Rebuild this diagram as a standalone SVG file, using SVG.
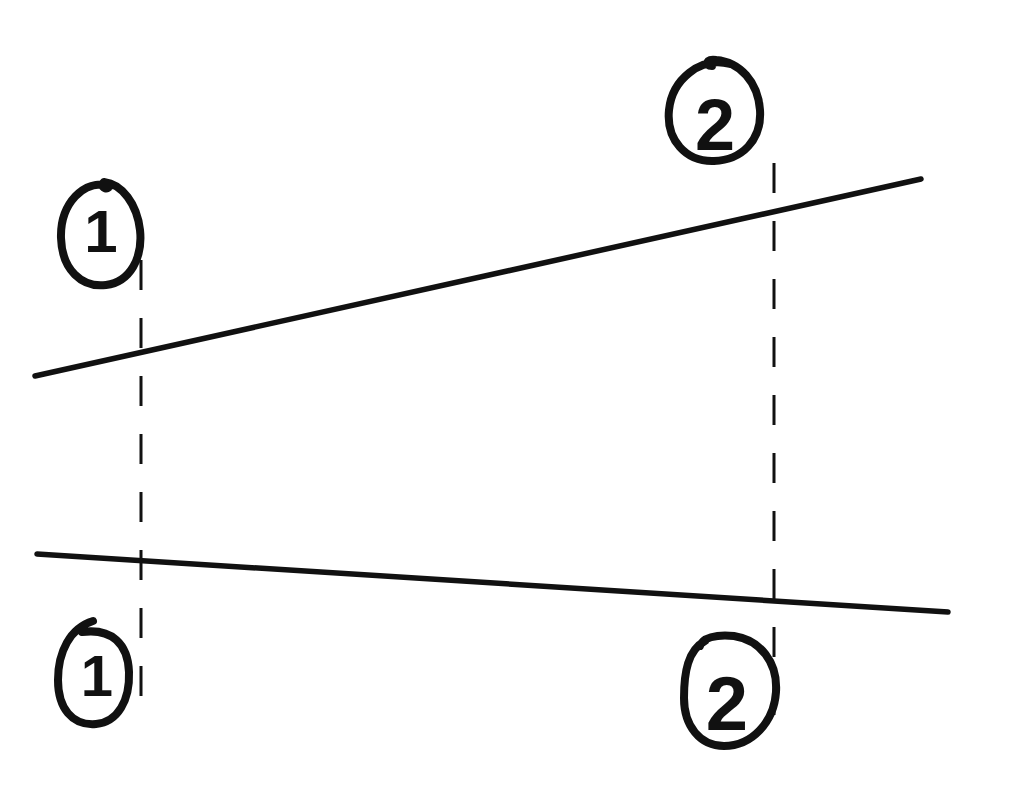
<svg xmlns="http://www.w3.org/2000/svg" width="1024" height="794" viewBox="0 0 1024 794">
<style>
.solid{stroke:#111;stroke-width:5.5;stroke-linecap:round;fill:none}
.dash{stroke:#111;stroke-width:3;stroke-dasharray:30 28;fill:none}
.ring{stroke:#111;stroke-width:8;stroke-linecap:round;stroke-linejoin:round;fill:none}
.num{font-family:"Liberation Sans",Arial,sans-serif;font-weight:bold;fill:#111;text-anchor:middle}
</style>
<rect width="1024" height="794" fill="#fff"/>
<g id="connectors">
<line class="solid" x1="35" y1="376" x2="921" y2="179"/>
<line class="solid" x1="37" y1="554" x2="948" y2="612"/>
<line class="dash" x1="141" y1="260" x2="141" y2="700"/>
<line class="dash" x1="774" y1="163" x2="774" y2="722"/>
</g>
<g id="label-1-top">
<path class="ring" d="M110 186 C84 178 60 204 61 238 C62 270 82 288 106 285 C130 282 143 258 140 230 C137 204 122 184 104 182 C100 185 104 190 108 188"/>
<text class="num" x="101" y="252" font-size="60">1</text>
</g>
<g id="label-2-top">
<path class="ring" d="M730 64 C700 56 672 80 669 110 C666 140 686 162 714 161 C742 160 762 140 760 110 C758 82 740 62 716 60 C706 58 704 66 712 66"/>
<text class="num" x="715" y="150" font-size="72">2</text>
</g>
<g id="label-1-bottom">
<path class="ring" d="M93 621 C70 628 58 652 58 680 C58 708 72 726 96 724 C118 722 130 700 129 672 C128 644 112 628 82 632"/>
<text class="num" x="97" y="696" font-size="58">1</text>
</g>
<g id="label-2-bottom">
<path class="ring" d="M705 641 C688 650 684 672 684 698 C684 726 700 746 724 746 C752 746 774 722 776 692 C778 662 760 640 734 636 C716 634 702 638 700 646"/>
<text class="num" x="727" y="730" font-size="76">2</text>
</g>
</svg>
